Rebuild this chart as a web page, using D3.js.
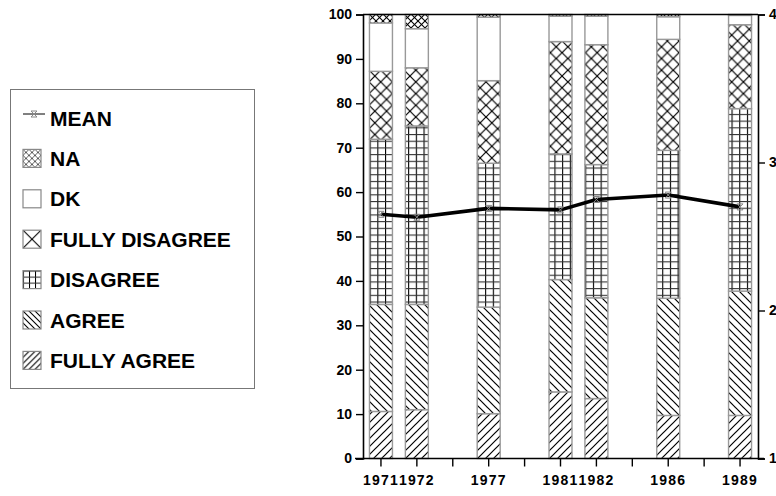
<!DOCTYPE html>
<html>
<head>
<meta charset="utf-8">
<script src="https://cdn.jsdelivr.net/npm/d3@7"></script>
<style>
  html, body { margin: 0; padding: 0; background: #fff; }
  svg { display: block; font-family: "Liberation Sans", Arial, sans-serif; }
</style>
</head>
<body>
<svg id="chart" width="776" height="496"></svg>
<script>
// ---- data ----
const tickLabels = ["1971", "1972", "", "1977", "", "1981", "1982", "", "1986", "", "1989"];
const years = ["1971", "1972", "1977", "1981", "1982", "1986", "1989"];
const fullyAgree    = [10.6, 11.0, 10.1, 15.0, 13.5, 9.7, 9.7];
const agree         = [24.1, 23.7, 24.0, 25.3, 22.7, 26.4, 28.0];
const disagree      = [37.2, 40.2, 32.4, 28.3, 30.0, 33.3, 41.1];
const fullyDisagree = [15.3, 13.1, 18.6, 25.3, 27.0, 25.0, 18.9];
const dk            = [10.9, 8.8, 14.3, 5.7, 6.4, 5.1, 2.1];
const na            = [1.9, 3.2, 0.6, 0.4, 0.4, 0.5, 0.2];
const mean          = [2.65, 2.63, 2.69, 2.68, 2.75, 2.78, 2.70];
const leftTicks  = [0, 10, 20, 30, 40, 50, 60, 70, 80, 90, 100];
const rightTicks = [1, 2, 3, 4];
const seriesNames = ["FULLY AGREE", "AGREE", "DISAGREE", "FULLY DISAGREE", "DK", "NA"];
const seriesKeys  = ["fa", "a", "d", "fd", "dk", "na"];
const legendOrder = ["MEAN", "NA", "DK", "FULLY DISAGREE", "DISAGREE", "AGREE", "FULLY AGREE"];

const rows = years.map((y, i) => ({
  year: y, fa: fullyAgree[i], a: agree[i], d: disagree[i],
  fd: fullyDisagree[i], dk: dk[i], na: na[i], mean: mean[i]
}));

// ---- layout ----
const svg = d3.select("#chart");
const L = 363, R = 758, T = 14.5, B = 458.5;

const x = d3.scaleBand().domain(d3.range(tickLabels.length)).range([L, R]).paddingInner(0.36).paddingOuter(0.18);
const slotOf = yr => tickLabels.indexOf(yr);
const y = d3.scaleLinear().domain([0, 100]).range([B, T]);
const y2 = d3.scaleLinear().domain([1, 4]).range([B, T]);

// ---- patterns ----
const defs = svg.append("defs");
function linesPattern(id, w, h, segs, sw, ox, oy) {
  const p = defs.append("pattern").attr("id", id).attr("patternUnits", "userSpaceOnUse")
    .attr("width", w).attr("height", h).attr("x", ox || 0).attr("y", oy || 0);
  p.append("rect").attr("width", w).attr("height", h).attr("fill", "#fff");
  segs.forEach(s => p.append("line").attr("x1", s[0]).attr("y1", s[1]).attr("x2", s[2]).attr("y2", s[3])
    .attr("stroke", s[4] || "#000").attr("stroke-width", sw).attr("stroke-linecap", "square"));
}
function slash(id, t, sw, ox, oy) { linesPattern(id, t, t, [[0, t, t, 0], [-t, t, t, -t], [0, 2 * t, 2 * t, 0]], sw, ox, oy); }
function backslash(id, t, sw, ox, oy) { linesPattern(id, t, t, [[0, 0, t, t], [-t, 0, t, 2 * t], [0, -t, 2 * t, t]], sw, ox, oy); }
function cross(id, t, sw, ox, oy, col) { linesPattern(id, t, t, [[0, 0, t, t, col], [0, t, t, 0, col]], sw, ox, oy); }
function grid(id, w, h, sw, ox, oy) { linesPattern(id, w, h, [[0.5, 0, 0.5, h], [0, 0.5, w, 0.5, "#333"]], sw, ox, oy); }

slash("p-fa", 8, 1.2);
backslash("p-a", 8, 1.2);
grid("p-d", 7.7, 6.7, 1.2, 0, 0);
cross("p-fd", 11.7, 1.2, 369, 0);
cross("p-na", 7, 1.1, 369, 0);

const fillFor = { fa: "url(#p-fa)", a: "url(#p-a)", d: "url(#p-d)", fd: "url(#p-fd)", dk: "#fff", na: "url(#p-na)" };

// ---- bars ----
const stack = d3.stack().keys(seriesKeys)(rows);
const gBars = svg.append("g");
stack.forEach(layer => {
  gBars.append("g").selectAll("rect").data(layer).join("rect")
    .attr("x", d => x(slotOf(d.data.year)))
    .attr("width", x.bandwidth())
    .attr("y", d => y(d[1]))
    .attr("height", d => y(d[0]) - y(d[1]))
    .attr("fill", fillFor[layer.key])
    .attr("stroke", "#999")
    .attr("stroke-width", 1.4);
});

// ---- axes ----
const axisL = svg.append("g").attr("transform", `translate(${L},0)`)
  .call(d3.axisLeft(y).tickValues(leftTicks).tickSize(7).tickPadding(4));
const axisR = svg.append("g").attr("transform", `translate(${R},0)`)
  .call(d3.axisRight(y2).tickValues(rightTicks).tickFormat(d3.format("d")).tickSize(7).tickPadding(4));
const axisB = svg.append("g").attr("transform", `translate(0,${B})`)
  .call(d3.axisBottom(x).tickFormat(i => tickLabels[i]).tickSize(8).tickPadding(9));
[axisL, axisR, axisB].forEach(g => {
  g.select(".domain").attr("stroke", "#000").attr("stroke-width", 1.6);
  g.selectAll(".tick line").attr("stroke", "#000").attr("stroke-width", 1.4);
  g.selectAll("text").attr("fill", "#000").attr("font-size", 14).attr("font-weight", "bold")
    .attr("font-family", "'Liberation Sans', Arial, sans-serif");
});
axisB.select(".domain").attr("d", `M${L - 8},0H${R + 6}`);
axisB.selectAll("text").attr("letter-spacing", 1.2);
svg.append("line").attr("x1", L).attr("x2", R).attr("y1", T).attr("y2", T)
  .attr("stroke", "#000").attr("stroke-width", 1.6);

// ---- mean line ----
const meanLine = d3.line().x(d => x(slotOf(d.year)) + x.bandwidth() / 2).y(d => y2(d.mean));
svg.append("path").datum(rows).attr("d", meanLine).attr("fill", "none")
  .attr("stroke", "#000").attr("stroke-width", 3.6).attr("stroke-linejoin", "round");
const markerPath = "M-3,-3H3M-3,3H3M-3,-3L3,3M3,-3L-3,3";
svg.append("g").selectAll("path").data(rows).join("path")
  .attr("transform", d => `translate(${x(slotOf(d.year)) + x.bandwidth() / 2},${y2(d.mean)})`)
  .attr("d", markerPath).attr("fill", "none").attr("stroke", "#888").attr("stroke-width", 1);

// ---- legend ----
const lg = svg.append("g");
lg.append("rect").attr("x", 10.5).attr("y", 89.5).attr("width", 244).attr("height", 299)
  .attr("fill", "#fff").attr("stroke", "#777").attr("stroke-width", 1);
const boxX = 23, boxS = 18, rowY0 = 118, rowStep = 40.4;
legendOrder.forEach((name, i) => {
  const cy = rowY0 + i * rowStep;
  const by = cy - boxS / 2;
  if (name === "MEAN") {
    lg.append("line").attr("x1", boxX).attr("x2", boxX + 22).attr("y1", cy - 4).attr("y2", cy - 4)
      .attr("stroke", "#000").attr("stroke-width", 1);
    lg.append("path").attr("transform", `translate(${boxX + 11},${cy - 4})`).attr("d", markerPath)
      .attr("fill", "none").attr("stroke", "#888").attr("stroke-width", 1);
  } else {
    const key = seriesKeys[seriesNames.indexOf(name)];
    let fill = "#fff";
    const pid = "lp-" + key;
    if (key === "fa") { slash(pid, 6, 1.1, boxX, by); fill = `url(#${pid})`; }
    if (key === "a") { backslash(pid, 6, 1.1, boxX, by); fill = `url(#${pid})`; }
    if (key === "d") { grid(pid, 6, 6, 1.1, boxX, by); fill = `url(#${pid})`; }
    if (key === "fd") { cross(pid, boxS, 1.1, boxX, by); fill = `url(#${pid})`; }
    if (key === "na") { cross(pid, 6, 0.8, boxX, by, "#333"); fill = `url(#${pid})`; }
    lg.append("rect").attr("x", boxX).attr("y", by).attr("width", boxS).attr("height", boxS)
      .attr("fill", fill).attr("stroke", "#888").attr("stroke-width", 1.2);
  }
  lg.append("text").attr("x", 50).attr("y", cy).attr("dy", "0.36em")
    .attr("font-size", 21).attr("font-weight", "bold").attr("fill", "#000").text(name);
});
</script>
</body>
</html>
